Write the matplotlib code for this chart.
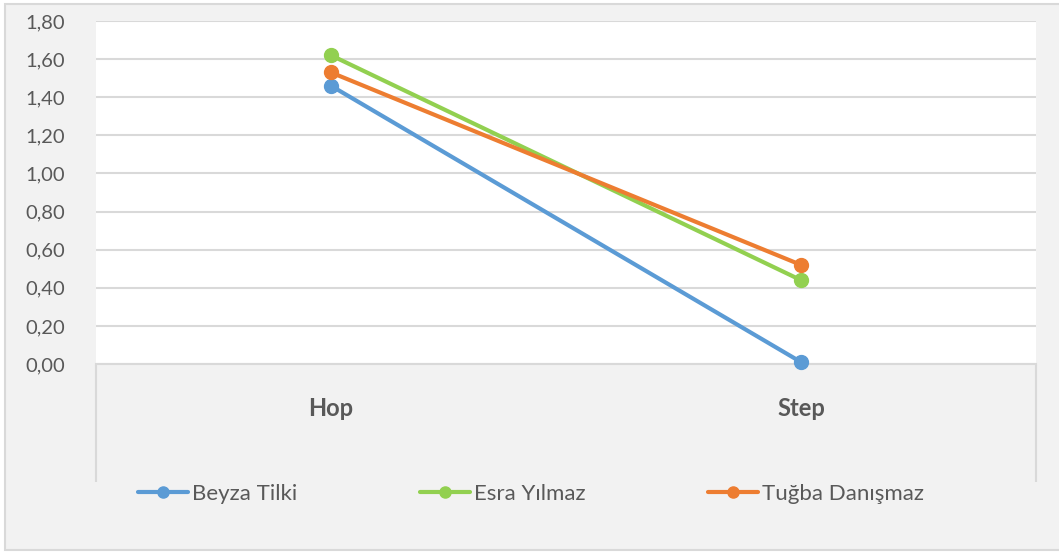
import matplotlib
matplotlib.use("Agg")
import matplotlib.pyplot as plt
from matplotlib.patches import Rectangle

plt.rcParams['font.family'] = ['Lato', 'DejaVu Sans']

# data
categories = ['Hop', 'Step']
beyza = [1.46, 0.01]
esra = [1.62, 0.44]
tugba = [1.53, 0.52]
names = ['Beyza Tilki', 'Esra Yılmaz', 'Tuğba Danışmaz']
colors = ['#5B9BD5', '#92D050', '#ED7D31']
yticks = [0.0, 0.2, 0.4, 0.6, 0.8, 1.0, 1.2, 1.4, 1.6, 1.8]

W, H = 1059, 552
fig = plt.figure(figsize=(W / 100, H / 100), dpi=100, facecolor='white')

# chart area background + border
fig.patches.append(Rectangle((5 / W, 2 / H), 1.1, 546 / H, transform=fig.transFigure,
                             facecolor='#F2F2F2', edgecolor='#D9D9D9', linewidth=1.5, zorder=-10))

ax = fig.add_axes([96 / W, 1 - 364 / H, 940 / W, 343 / H])
ax.set_facecolor('white')

x = range(len(categories))
for vals, name, c in zip([beyza, esra, tugba], names, colors):
    ax.plot(x, vals, color=c, linewidth=3, marker='o', markersize=10, label=name,
            solid_capstyle='round', zorder=3, clip_on=False)

ax.set_xlim(-0.5, 1.5)
ax.set_ylim(0, 1.8)
ax.set_yticks(yticks)
ax.set_yticklabels([f'{v:.2f}'.replace('.', ',') for v in yticks])
ax.yaxis.grid(True, color='#D9D9D9', linewidth=1.5)
ax.set_axisbelow(True)

ax.set_xticks(list(x))
ax.set_xticklabels(categories, fontsize=17, fontweight='bold', color='#595959')
ax.set_xticks([-0.5, 1.5], minor=True)
ax.tick_params(axis='x', which='major', length=0, pad=24)
ax.tick_params(axis='x', which='minor', length=85, width=1.5, color='#D9D9D9', direction='out')
ax.tick_params(axis='y', length=0, pad=22, labelsize=14.5, labelcolor='#595959')

for s in ['top', 'left', 'right']:
    ax.spines[s].set_visible(False)
ax.spines['bottom'].set_color('#D9D9D9')
ax.spines['bottom'].set_linewidth(1.5)

fig.legend(loc='center', bbox_to_anchor=(531 / W, 1 - 494 / H), ncol=3, frameon=False,
           fontsize=16, labelcolor='#595959', handlelength=2.25, handletextpad=0.2,
           columnspacing=5.5, markerscale=0.8)

fig.savefig('out.png', dpi=100, facecolor='white')
